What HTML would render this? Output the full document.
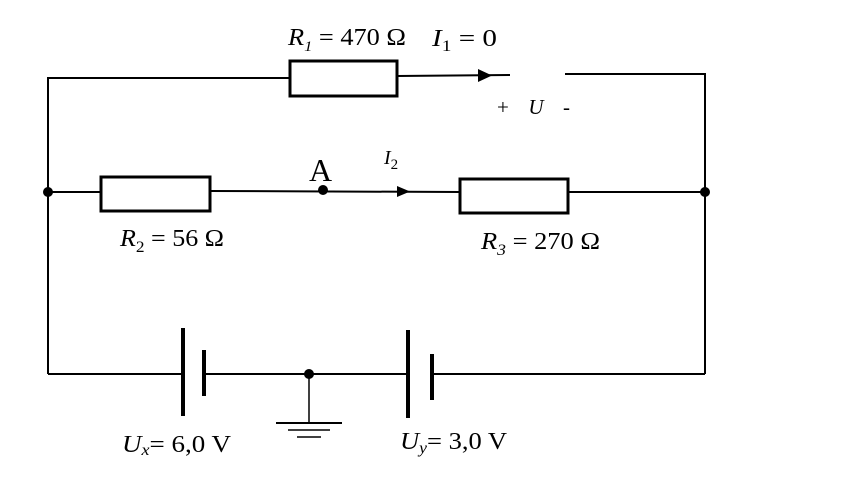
<!DOCTYPE html>
<html><head><meta charset="utf-8"><style>
html,body{margin:0;padding:0;background:#fff;}
svg{display:block;}
text{font-family:"Liberation Serif",serif;fill:#000;}
</style></head><body>
<svg width="864" height="494" viewBox="0 0 864 494" xmlns="http://www.w3.org/2000/svg">
<g stroke="#000" fill="none" stroke-width="2">
<polyline points="48,374 48,78 290,78"/>
<rect x="290" y="61" width="107" height="35" stroke-width="3"/>
<line x1="397" y1="76" x2="510" y2="75"/>
<polyline points="565,74 705,74 705,374"/>
<line x1="48" y1="192" x2="101" y2="192"/>
<rect x="101" y="177" width="109" height="34" stroke-width="3"/>
<line x1="210" y1="191" x2="460" y2="192"/>
<rect x="460" y="179" width="108" height="34" stroke-width="3"/>
<line x1="568" y1="192" x2="705" y2="192"/>
<line x1="48" y1="374" x2="183" y2="374"/>
<line x1="204" y1="374" x2="408" y2="374"/>
<line x1="432" y1="374" x2="705" y2="374"/>
<line x1="183" y1="328" x2="183" y2="416" stroke-width="4"/>
<line x1="204" y1="350" x2="204" y2="396" stroke-width="4"/>
<line x1="408" y1="330" x2="408" y2="418" stroke-width="4"/>
<line x1="432" y1="354" x2="432" y2="400" stroke-width="4"/>
<line x1="309" y1="374" x2="309" y2="423" stroke-width="1.5"/>
<line x1="276" y1="423" x2="342" y2="423"/>
<line x1="288" y1="430" x2="330" y2="430" stroke-width="1.5"/>
<line x1="297" y1="437" x2="321" y2="437" stroke-width="1.5"/>
</g>
<g fill="#000">
<circle cx="48" cy="192" r="5"/>
<circle cx="705" cy="192" r="5"/>
<circle cx="323" cy="190" r="5"/>
<circle cx="309" cy="374" r="5"/>
<polygon points="478,69 492,75.5 478,82"/>
<polygon points="397,186 410,191.5 397,197"/>
</g>
<text x="288" y="45" font-size="24" textLength="118" lengthAdjust="spacingAndGlyphs"><tspan font-style="italic">R</tspan><tspan font-style="italic" font-size="15" dy="6">1</tspan><tspan dy="-6"> = 470 Ω</tspan></text>
<text x="432" y="46" font-size="24" textLength="65" lengthAdjust="spacingAndGlyphs"><tspan font-style="italic">I</tspan><tspan font-size="16" dy="5">1</tspan><tspan dy="-5"> = 0</tspan></text>
<text x="497" y="114" font-size="21" textLength="73" lengthAdjust="spacing">+ <tspan font-style="italic">U</tspan> -</text>
<text x="309" y="181" font-size="32">A</text>
<text x="384" y="164" font-size="20" font-style="italic">I<tspan font-style="normal" font-size="15" dy="5">2</tspan></text>
<text x="120" y="246" font-size="24" textLength="104" lengthAdjust="spacingAndGlyphs"><tspan font-style="italic">R</tspan><tspan font-size="16" dy="6">2</tspan><tspan dy="-6"> = 56 Ω</tspan></text>
<text x="481" y="249" font-size="24" textLength="119" lengthAdjust="spacingAndGlyphs"><tspan font-style="italic">R</tspan><tspan font-style="italic" font-size="16" dy="6">3</tspan><tspan dy="-6"> = 270 Ω</tspan></text>
<text x="122" y="452" font-size="24" textLength="109" lengthAdjust="spacingAndGlyphs"><tspan font-style="italic">U</tspan><tspan font-style="italic" font-size="16" dy="3">x</tspan><tspan dy="-3">= 6,0 V</tspan></text>
<text x="400" y="449" font-size="24" textLength="107" lengthAdjust="spacingAndGlyphs"><tspan font-style="italic">U</tspan><tspan font-style="italic" font-size="16" dy="4">y</tspan><tspan dy="-4">= 3,0 V</tspan></text>
</svg>
</body></html>
